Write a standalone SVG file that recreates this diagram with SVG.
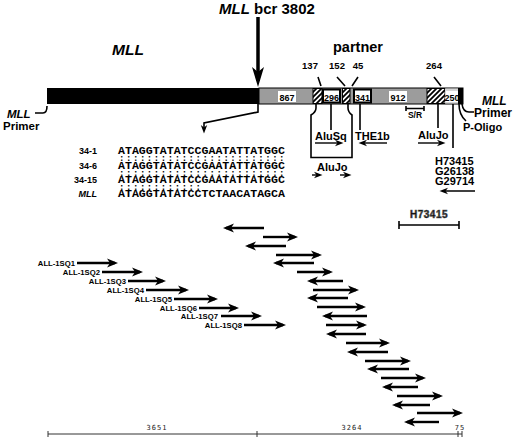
<svg xmlns="http://www.w3.org/2000/svg" width="520" height="441" viewBox="0 0 520 441">
<style>
.b{font-family:"Liberation Sans",Arial,sans-serif;font-weight:bold;fill:#000}
.i{font-style:italic}
.seq{font-family:"Liberation Mono","Courier New",monospace;font-weight:bold;font-size:11.6px;fill:#000}
.col{font-family:"Liberation Mono","Courier New",monospace;font-weight:bold;font-size:9px;letter-spacing:1.56px;fill:#000}
.thk{stroke:#000;stroke-width:2.4;fill:none}
.thn{stroke:#000;stroke-width:1.4;fill:none}
.ln{stroke:#000;stroke-width:1.6;fill:none}
.sc{font-family:"DejaVu Sans Mono","Liberation Mono",monospace;font-size:7px;fill:#222;letter-spacing:1px}
</style>
<defs>
<pattern id="hatch" patternUnits="userSpaceOnUse" width="5" height="5">
<rect width="5" height="5" fill="#fff"/>
<path d="M-1,1 L1,-1 M0,5 L5,0 M4,6 L6,4" stroke="#000" stroke-width="1.8"/>
</pattern>
<marker id="ah" markerUnits="userSpaceOnUse" markerWidth="12" markerHeight="10" refX="8" refY="5" orient="auto">
<path d="M0,0.5 L11,5 L0,9.5 L3,5 z" fill="#000"/>
</marker>
<marker id="as" markerUnits="userSpaceOnUse" markerWidth="10" markerHeight="8" refX="6" refY="4" orient="auto">
<path d="M0,0.8 L8.5,4 L0,7.2 L2.5,4 z" fill="#000"/>
</marker>
<marker id="big" markerUnits="userSpaceOnUse" markerWidth="22" markerHeight="14" refX="14" refY="7" orient="auto">
<path d="M0,1 L20,7 L0,13 L5,7 z" fill="#000"/>
</marker>
</defs>

<g id="titles">
<text class="b i" x="112" y="55" font-size="15.5">MLL</text>
<text class="b" x="219" y="14" font-size="15"><tspan class="i">MLL</tspan> bcr 3802</text>
<text class="b" x="333" y="52" font-size="14.5">partner</text>
</g>

<g id="bar">
<rect x="47" y="88" width="212" height="16" fill="#000"/>
<rect x="259" y="88" width="204" height="16" fill="#9c9c9c" stroke="#000" stroke-width="1"/>
<rect x="278" y="91" width="18" height="11" fill="#fff"/>
<text class="b" x="287" y="100.5" font-size="9" text-anchor="middle">867</text>
<rect x="313" y="88.5" width="9" height="15" fill="url(#hatch)" stroke="#000" stroke-width="1"/>
<rect x="323" y="89.5" width="17" height="13" fill="#fff" stroke="#000" stroke-width="2"/>
<text class="b" x="331.5" y="100.5" font-size="9" text-anchor="middle">296</text>
<rect x="342.5" y="88.5" width="7.5" height="15" fill="url(#hatch)" stroke="#000" stroke-width="1"/>
<rect x="354" y="89.5" width="17" height="13" fill="#fff" stroke="#000" stroke-width="2"/>
<text class="b" x="362.5" y="100.5" font-size="9" text-anchor="middle">341</text>
<rect x="389" y="91" width="18" height="11" fill="#fff"/>
<text class="b" x="398" y="100.5" font-size="9" text-anchor="middle">912</text>
<rect x="427" y="88.5" width="18" height="15" fill="url(#hatch)" stroke="#000" stroke-width="1"/>
<rect x="445" y="88.5" width="13" height="15" fill="#d6d6d6"/>
<rect x="446" y="91" width="12" height="11" fill="#fff"/>
<text class="b" x="452" y="100.5" font-size="9" text-anchor="middle">250</text>
<rect x="458" y="88" width="5" height="16" fill="#000"/>
</g>

<g id="bar-labels">
<text class="b" x="310" y="69" font-size="9.5" text-anchor="middle">137</text>
<text class="b" x="337" y="69" font-size="9.5" text-anchor="middle">152</text>
<text class="b" x="358" y="69" font-size="9.5" text-anchor="middle">45</text>
<text class="b" x="434" y="69" font-size="9.5" text-anchor="middle">264</text>
<text class="b" x="415" y="118" font-size="8.5" text-anchor="middle">S/R</text>
<text class="b i" x="7" y="118" font-size="11.5">MLL</text>
<text class="b" x="3" y="130" font-size="11.5">Primer</text>
<text class="b i" x="482" y="105" font-size="12">MLL</text>
<text class="b" x="474" y="117" font-size="12">Primer</text>
<text class="b" x="463" y="131" font-size="11">P-Oligo</text>
<text class="b" x="315" y="139.5" font-size="11">AluSq</text>
<text class="b" x="355" y="139.5" font-size="11">THE1b</text>
<text class="b" x="418" y="139" font-size="11">AluJo</text>
<text class="b" x="317" y="171" font-size="11">AluJo</text>
<text class="b" x="435" y="165" font-size="11">H73415</text>
<text class="b" x="435" y="175" font-size="11">G26138</text>
<text class="b" x="435" y="185" font-size="11">G29714</text>
<text class="b" x="429" y="218" font-size="10" text-anchor="middle" fill="#fff" stroke="#555" stroke-width="0.6" letter-spacing="0.5">H73415</text>
</g>

<g id="sequences">
<text class="b" x="97" y="154" font-size="9" text-anchor="end">34-1</text>
<text class="b" x="97" y="169" font-size="9" text-anchor="end">34-6</text>
<text class="b" x="97" y="183" font-size="9" text-anchor="end">34-15</text>
<text class="b i" x="97" y="197" font-size="9" text-anchor="end">MLL</text>
<text class="seq" x="118" y="154">ATAGGTATATCCGAATATTATGGC</text>
<text class="col" x="119" y="161">::::::::::::::::::::::::</text>
<text class="seq" x="118" y="169">ATAGGTATATCCGAATATTATGGC</text>
<text class="col" x="119" y="176">::::::::::::::::::::::::</text>
<text class="seq" x="118" y="183">ATAGGTATATCCGAATATTATGGC</text>
<text class="col" x="119" y="190">::::::::::::</text>
<text class="seq" x="118" y="197">ATAGGTATATCCTCTAACATAGCA</text>
</g>

<g id="primers">
<text class="b" x="75" y="266" font-size="7.7" text-anchor="end">ALL-1SQ1</text>
<text class="b" x="100" y="275" font-size="7.7" text-anchor="end">ALL-1SQ2</text>
<text class="b" x="126" y="284" font-size="7.7" text-anchor="end">ALL-1SQ3</text>
<text class="b" x="144" y="293" font-size="7.7" text-anchor="end">ALL-1SQ4</text>
<text class="b" x="172" y="302" font-size="7.7" text-anchor="end">ALL-1SQ5</text>
<text class="b" x="197" y="311" font-size="7.7" text-anchor="end">ALL-1SQ6</text>
<text class="b" x="218" y="319" font-size="7.7" text-anchor="end">ALL-1SQ7</text>
<text class="b" x="242" y="328" font-size="7.7" text-anchor="end">ALL-1SQ8</text>
</g>

<g id="scale">
<path d="M48,434 H462 M48,431 V437 M257,431 V437 M458,431 V437 M462,431 V437" stroke="#333" stroke-width="1" fill="none"/>
<text class="sc" x="157" y="430" text-anchor="middle">3651</text>
<text class="sc" x="352" y="430" text-anchor="middle">3264</text>
<text class="sc" x="460" y="430" text-anchor="middle">75</text>
</g>

<g id="connectors">
<line x1="258" y1="17" x2="258" y2="81" stroke="#000" stroke-width="3.5" marker-end="url(#big)"/>
<path class="ln" d="M258,104 V112 L204,123 V131" marker-end="url(#as)"/>
<path class="ln" d="M318,77 L321,86 M337,77 L345,86 M358,77 L352,86 M434,77 L441,86"/>
<path class="ln" d="M35,113 H43 Q47,113 47,106"/>
<path class="ln" d="M462,104 Q463,112 469,112 H474"/>
<path class="ln" d="M459,104 Q459,115 466,121"/>
<path class="ln" d="M406,106 V111 M406,108.5 H424 M424,106 V111"/>
<path class="ln" d="M316,104 V108 Q316,112 311,115 V157.5 H352 V115 Q348,112 348,108 V104"/>
<path class="ln" d="M331,104 V130 M360,104 V130 M438,104 V128 M453,104 V148"/>
<path class="ln" d="M399,225 H459 M399,221 V229 M459,221 V229"/>
<g class="thn">
<line x1="315" y1="143" x2="341" y2="143" marker-end="url(#as)"/>
<line x1="387" y1="143" x2="361" y2="143" marker-end="url(#as)"/>
<line x1="418" y1="143" x2="443" y2="143" marker-end="url(#as)"/>
<line x1="312" y1="175" x2="320" y2="175" marker-end="url(#as)"/>
<line x1="340" y1="175" x2="349" y2="175" marker-end="url(#as)"/>
<line x1="475" y1="191" x2="442" y2="191" marker-end="url(#as)"/>
</g>
<g class="thk" stroke-width="2.2">
<line x1="77" y1="263" x2="115" y2="263" marker-end="url(#ah)"/>
<line x1="102" y1="272" x2="140" y2="272" marker-end="url(#ah)"/>
<line x1="128" y1="281" x2="163" y2="281" marker-end="url(#ah)"/>
<line x1="146" y1="290" x2="186" y2="290" marker-end="url(#ah)"/>
<line x1="174" y1="299" x2="215" y2="299" marker-end="url(#ah)"/>
<line x1="199" y1="308" x2="236" y2="308" marker-end="url(#ah)"/>
<line x1="221" y1="316" x2="259" y2="316" marker-end="url(#ah)"/>
<line x1="244" y1="325" x2="283" y2="325" marker-end="url(#ah)"/>
</g>
<g class="thk">
<line x1="264" y1="228" x2="226" y2="228" marker-end="url(#ah)"/>
<line x1="263" y1="237" x2="295" y2="237" marker-end="url(#ah)"/>
<line x1="286" y1="246" x2="248" y2="246" marker-end="url(#ah)"/>
<line x1="276" y1="255" x2="319" y2="255" marker-end="url(#ah)"/>
<line x1="314" y1="263" x2="276" y2="263" marker-end="url(#ah)"/>
<line x1="297" y1="272" x2="330" y2="272" marker-end="url(#ah)"/>
<line x1="343" y1="281" x2="310" y2="281" marker-end="url(#ah)"/>
<line x1="313" y1="290" x2="356" y2="290" marker-end="url(#ah)"/>
<line x1="348" y1="298" x2="310" y2="298" marker-end="url(#ah)"/>
<line x1="317" y1="307" x2="363" y2="307" marker-end="url(#ah)"/>
<line x1="367" y1="316" x2="325" y2="316" marker-end="url(#ah)"/>
<line x1="326" y1="325" x2="364" y2="325" marker-end="url(#ah)"/>
<line x1="366" y1="334" x2="329" y2="334" marker-end="url(#ah)"/>
<line x1="346" y1="343" x2="387" y2="343" marker-end="url(#ah)"/>
<line x1="388" y1="352" x2="350" y2="352" marker-end="url(#ah)"/>
<line x1="365" y1="361" x2="408" y2="361" marker-end="url(#ah)"/>
<line x1="409" y1="369" x2="370" y2="369" marker-end="url(#ah)"/>
<line x1="381" y1="378" x2="423" y2="378" marker-end="url(#ah)"/>
<line x1="418" y1="387" x2="385" y2="387" marker-end="url(#ah)"/>
<line x1="397" y1="396" x2="440" y2="396" marker-end="url(#ah)"/>
<line x1="430" y1="405" x2="395" y2="405" marker-end="url(#ah)"/>
<line x1="417" y1="413" x2="460" y2="413" marker-end="url(#ah)"/>
<line x1="439" y1="422" x2="407" y2="422" marker-end="url(#ah)"/>
</g>
</g>
</svg>
